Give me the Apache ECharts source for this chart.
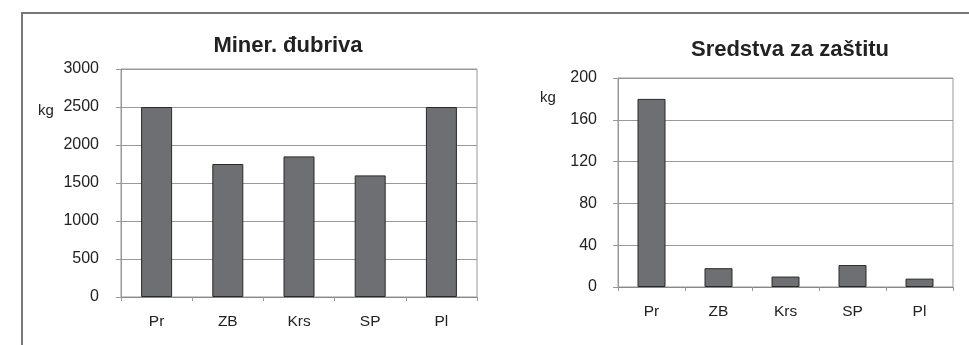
<!DOCTYPE html>
<html>
<head>
<meta charset="utf-8">
<script src="https://cdn.jsdelivr.net/npm/echarts@6/dist/echarts.min.js"></script>
<style>
  html, body { margin: 0; padding: 0; background: #fff; }
  #chart { width: 969px; height: 345px; }
</style>
</head>
<body>
<div id="chart"></div>
<script>
// categories shared by both panels
const categories = ['Pr', 'ZB', 'Krs', 'SP', 'Pl']

// Miner. đubriva (kg)
const fertilizerKg = [2500, 1750, 1850, 1600, 2500]
// Sredstva za zaštitu (kg)
const protectionKg = [180, 18, 10, 21, 8]

const titles = ['Miner. đubriva', 'Sredstva za zaštitu']
const unitLabel = 'kg'

const FONT = '"Liberation Sans", Arial, sans-serif'
const textColor = '#222'
const barFill = '#6e6f73'
const barEdge = '#2a2a2a'

function xAxisFor(gridIndex) {
  return {
    type: 'category',
    gridIndex: gridIndex,
    data: categories,
    axisLine: { lineStyle: { color: '#888', width: 1 } },
    axisTick: { show: true, length: 4, lineStyle: { color: '#999' } },
    axisLabel: { color: textColor, fontFamily: FONT, fontSize: 15.5, margin: 17 },
    splitLine: { show: false }
  }
}

function yAxisFor(gridIndex, max, interval, margin) {
  return {
    type: 'value',
    gridIndex: gridIndex,
    min: 0,
    max: max,
    interval: interval,
    axisLine: { show: true, lineStyle: { color: '#999', width: 1 } },
    axisTick: { show: true, length: 5, lineStyle: { color: '#999' } },
    axisLabel: {
      color: textColor, fontFamily: FONT, fontSize: 16, margin: margin,
      formatter: v => String(v)
    },
    splitLine: { show: true, lineStyle: { color: '#999', width: 1 } }
  }
}

function barSeries(idx, data, width) {
  return {
    type: 'bar',
    xAxisIndex: idx,
    yAxisIndex: idx,
    data: data,
    barWidth: width,
    itemStyle: { color: barFill, borderColor: barEdge, borderWidth: 1 },
    animation: false
  }
}

const chart = echarts.init(document.getElementById('chart'), null, { renderer: 'canvas' })

chart.setOption({
  animation: false,
  title: [
    {
      text: titles[0], left: 283, top: 30, textAlign: 'center',
      textStyle: { fontFamily: FONT, fontSize: 22, fontWeight: 'bold', color: '#222' }
    },
    {
      text: titles[1], left: 785, top: 34, textAlign: 'center',
      textStyle: { fontFamily: FONT, fontSize: 22, fontWeight: 'bold', color: '#222' }
    }
  ],
  grid: [
    { left: 121, top: 69, width: 356, height: 228, show: true, borderColor: '#999', borderWidth: 1 },
    { left: 618, top: 78, width: 335, height: 209, show: true, borderColor: '#999', borderWidth: 1 }
  ],
  xAxis: [xAxisFor(0), xAxisFor(1)],
  yAxis: [yAxisFor(0, 3000, 500, 22), yAxisFor(1, 200, 40, 21)],
  series: [barSeries(0, fertilizerKg, 31), barSeries(1, protectionKg, 28)],
  graphic: [
    {
      type: 'rect',
      shape: { x: 22, y: 13, width: 1200, height: 600 },
      style: { fill: 'none', stroke: '#777', lineWidth: 2 },
      silent: true
    },
    {
      type: 'text', left: 38, top: 103,
      style: { text: unitLabel, fontFamily: FONT, fontSize: 15, fill: textColor }
    },
    {
      type: 'text', left: 540, top: 90,
      style: { text: unitLabel, fontFamily: FONT, fontSize: 15, fill: textColor }
    }
  ]
})
</script>
</body>
</html>
